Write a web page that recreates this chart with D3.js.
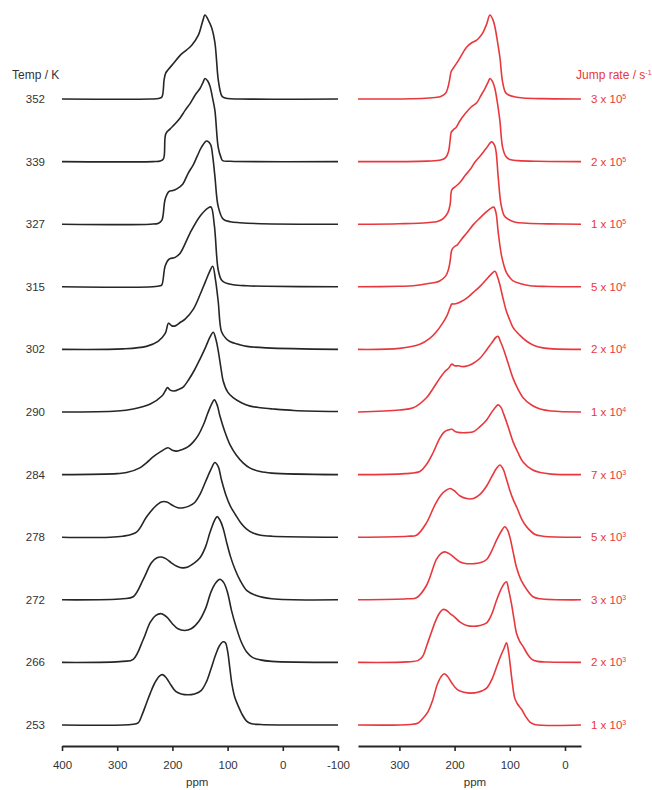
<!DOCTYPE html>
<html>
<head>
<meta charset="utf-8">
<script src="https://cdn.jsdelivr.net/npm/d3@7"></script>
<style>
  html, body { margin: 0; padding: 0; background: #fff; }
  svg { display: block; font-family: "Liberation Sans", Arial, sans-serif; }
</style>
</head>
<body>
<div id="chart"></div>
<script>
// temperatures (K) and fitted jump rates, top to bottom
const temps = [352, 339, 327, 315, 302, 290, 284, 278, 272, 266, 253];
const rateMant = [3, 2, 1, 5, 2, 1, 7, 5, 3, 2, 1];
const rateExp = [5, 5, 5, 4, 4, 4, 3, 3, 3, 3, 3];
const leftTicks = [400, 300, 200, 100, 0, -100];
const rightTicks = [300, 200, 100, 0];

// experimental spectra: [ppm, intensity %]
const exp352 = [[400,0],[240,0],[225,0.6],[219,2.4],[215,23],[212,31],[207.5,35],[196,44],[186,52],[175,58],[165,64],[153,76],[145,93],[141,100],[135,94],[129,85],[123,67],[117,23],[112,6],[109,2.4],[100,0.6],[80,0],[-100,0]];
const exp339 = [[400,0],[235,0],[222,0.6],[216,3.6],[212,33],[204,39],[195,45],[186,52],[177,61],[168,69],[159,79],[150,87],[144,95],[141,99],[136,96],[132,90],[127,75],[123,61],[117,17],[112,5],[109,1.2],[95,0.4],[-100,0]];
const exp327 = [[400,0],[240,0],[225,1.2],[219,4.8],[213,30],[206,39],[199,40],[192,42],[181,48],[172,60],[162,71],[155,81],[147,92],[138,99],[131,95],[127,81],[123,57],[117,21],[108,6],[95,3],[78,1.8],[40,0.6],[-100,0]];
const exp315 = [[400,0],[235,0],[222,1.2],[219,2.4],[213,25],[206,33],[195,35],[186,40],[168,64],[150,84],[135,94],[130,95],[124,73],[117,20],[111,8],[105,5],[90,2.4],[65,1.2],[30,0.6],[-100,0]];
const exp302 = [[400,0],[290,0.6],[247,3.6],[226,9.5],[213,19],[207,31],[201,28],[195,28],[186,32],[177,36],[162,48],[150,65],[140,81],[133,92],[127,99],[122,83],[117,57],[111,21],[103,13],[96,9.5],[80,6],[65,3.6],[29,1.8],[-100,0]];
const exp290 = [[400,0],[300,1.2],[271,3.6],[240,9.5],[219,19],[213,25],[209,29],[204,26],[197,25],[188,27],[180,30],[170,39],[160,50],[150,63],[140,77],[132,89],[126,95],[121,86],[117,73],[112,52],[108,37],[100,24],[90,17],[75,11],[59,7],[40,5],[18,3.6],[-20,1.8],[-100,0.6]];
const exp284 = [[400,0],[300,1.2],[283,2.4],[259,8],[247,14],[235,21],[222,27],[208,32],[200,29],[192,28],[182,30],[172,33],[162,39],[153,47],[144,59],[136,73],[129,84],[124,89],[119,83],[114,70],[105,51],[96,36],[84,23],[72,14],[60,8],[41,3.6],[20,1.8],[-100,0]];
const exp278 = [[400,0],[290,1.2],[265,6],[247,24],[232,36],[220,42],[210,42],[200,38],[190,35],[180,35],[170,37],[160,41],[150,51],[140,66],[130,81],[123,89],[117,84],[111,68],[103,50],[95,37],[86,27],[76,17],[66,10],[54,5],[40,2.4],[20,1.2],[-100,0]];
const exp272 = [[400,0],[290,1.2],[271,3.6],[253,24],[238,44],[228,50],[220,51],[212,49],[202,44],[192,40],[182,38],[172,39],[162,43],[150,50],[140,63],[132,80],[124,94],[119,99],[114,95],[108,85],[102,69],[95,52],[87,37],[78,24],[65,11],[48,5],[20,1.2],[-100,0]];
const exp266 = [[400,0],[290,1.2],[271,3.6],[253,27],[240,48],[230,56],[220,58],[210,54],[200,46],[190,40],[178,38],[166,40],[152,49],[140,64],[130,84],[121,95],[114,99],[107,95],[100,83],[93,62],[84,41],[75,24],[65,12],[55,6],[41,3],[20,1.2],[-100,0]];
const exp253 = [[400,0],[275,0.6],[262,2.4],[255,12],[247,26],[240,38],[232,50],[224,58],[218,60],[211,56],[203,48],[194,40],[184,37],[172,36],[160,37],[148,41],[138,52],[130,67],[122,83],[115,94],[108,99],[104,98],[100,88],[96,68],[92,48],[87,33],[81,23],[74,13],[66,5],[58,1.8],[40,0.6],[-100,0]];

// simulated spectra: [ppm, intensity %]
const sim3e5 = [[375,0],[260,0.6],[235,1.8],[225,3],[216,7],[212,14],[209,23],[206,33],[200,39],[193,46],[185,55],[178,62],[169,67],[160,70],[154,74],[148,80],[142,89],[136,100],[131,95],[127,86],[122,67],[118,50],[113,20],[108,8],[103,5],[90,2.4],[76,1.2],[40,0.4],[-29,0]];
const sim2e5 = [[375,0],[250,0.6],[225,1.8],[216,5],[211,12],[208,26],[206,35],[202,38],[197,41],[190,49],[181,57],[170,65],[160,70],[152,79],[145,87],[139,95],[136,99],[131,95],[127,87],[122,68],[118,49],[113,17],[107,6],[100,2.4],[85,1.2],[50,0.4],[-29,0]];
const sim1e5 = [[375,0],[300,0.6],[250,1.8],[230,3.6],[220,7],[212,14],[208,24],[205,41],[198,45],[190,50],[181,58],[172,65],[163,74],[154,81],[143,90],[133,98],[127,93],[121,56],[116,24],[110,10],[103,6],[90,2.4],[69,1.2],[30,0.4],[-29,0]];
const sim5e4 = [[375,0],[300,0.6],[275,1.2],[250,3.6],[227,7],[216,13],[211,21],[208,31],[205,44],[200,48],[195,50],[187,57],[178,64],[166,74],[154,82],[143,89],[133,94],[129,95],[125,88],[121,65],[115,37],[110,24],[106,17],[100,11],[94,7],[80,3.6],[63,1.2],[30,0.4],[-29,0]];
const sim2e4 = [[375,0],[300,1.2],[263,6],[245,13],[233,21],[222,31],[214,40],[208,50],[205,54],[201,54],[195,55],[188,57],[178,61],[166,68],[154,75],[143,83],[133,90],[127,93],[122,86],[118,77],[112,60],[106,45],[100,35],[94,26],[82,17],[70,10],[57,5],[40,1.8],[22,0.6],[-29,0]];
const sim1e4 = [[375,0],[300,2.4],[275,5],[251,17],[239,28],[227,40],[218,48],[211,52],[205,57],[200,55],[193,55],[185,54],[176,55],[166,58],[154,64],[143,73],[133,82],[125,89],[121,90],[117,84],[112,76],[103,58],[94,40],[85,27],[76,17],[60,8],[45,3.6],[25,1.2],[-29,0]];
const sim7e3 = [[375,0],[290,1.2],[263,3.6],[251,12],[239,26],[228,42],[220,50],[212,53],[205,54],[198,51],[190,50],[178,50],[166,51],[154,57],[142,65],[132,75],[125,81],[121,83],[116,80],[111,72],[103,57],[94,39],[85,26],[76,15],[60,6],[45,2.4],[25,0.6],[-29,0]];
const sim5e3 = [[375,0],[285,1.2],[269,2.4],[251,17],[236,38],[225,50],[215,56],[208,58],[200,55],[190,49],[178,46],[166,46],[154,51],[142,61],[132,73],[124,82],[118,86],[112,81],[106,69],[100,56],[94,45],[87,35],[78,21],[69,12],[55,3.6],[40,1.2],[-29,0]];
const sim3e3 = [[375,0],[285,1.2],[269,2.4],[251,17],[233,48],[225,55],[218,57],[210,55],[202,51],[190,45],[178,43],[166,43],[154,44],[142,48],[133,58],[124,71],[116,81],[109,87],[104,83],[100,75],[94,57],[88,39],[80,24],[69,12],[58,3.6],[45,1.2],[-29,0]];
const sim2e3 = [[375,0],[285,0.6],[266,2.4],[258,7],[251,19],[242,36],[234,50],[227,59],[221,63],[215,62],[208,58],[200,54],[190,48],[178,44],[166,43],[154,44],[142,47],[133,57],[124,74],[116,87],[110,94],[106,96],[102,86],[97,70],[92,50],[88,35],[82,25],[76,19],[68,10],[60,3.6],[50,1.2],[30,0.4],[-29,0]];
const sim1e3 = [[375,0],[280,0.6],[266,2.4],[256,9],[248,16],[240,29],[232,47],[225,57],[219,61],[213,58],[205,50],[195,42],[183,39],[170,38],[158,39],[142,44],[132,55],[124,69],[116,83],[110,92],[106,98],[102,86],[99,70],[95,48],[91,32],[86,25],[79,19],[71,10],[63,3],[55,0.6],[-29,0]];

const expSpectra = [exp352, exp339, exp327, exp315, exp302, exp290, exp284, exp278, exp272, exp266, exp253];
const simSpectra = [sim3e5, sim2e5, sim1e5, sim5e4, sim2e4, sim1e4, sim7e3, sim5e3, sim3e3, sim2e3, sim1e3];

const width = 652;
const height = 790;
const black = '#262626';
const red = '#e8383d';
const textGrey = '#333';
const axisY = 746;

const svg = d3.select('#chart')
  .append('svg')
  .attr('width', width)
  .attr('height', height);

const xLeft = d3.scaleLinear().domain([400, -100]).range([62, 338]);
const xRight = d3.scaleLinear().domain([375, -29]).range([358, 581]);
const base = d3.scalePoint().domain(temps).range([99, 725]);
const amp = d3.scaleLinear().domain([0, 100]).range([0, 84]);

const drawStack = (spectra, x, color) => {
  const g = svg.append('g');
  spectra.forEach((s, i) => {
    const y0 = base(temps[i]);
    const line = d3.line()
      .x((d) => x(d[0]))
      .y((d) => y0 - amp(d[1]))
      .curve(d3.curveCatmullRom.alpha(0.5));
    g.append('path')
      .datum(s)
      .attr('fill', 'none')
      .attr('stroke', color)
      .attr('stroke-width', 1.6)
      .attr('stroke-linejoin', 'round')
      .attr('d', line);
  });
};

drawStack(expSpectra, xLeft, black);
drawStack(simSpectra, xRight, red);

// axes
const styleAxis = (g) => {
  g.select('.domain').attr('stroke', black).attr('stroke-width', 2);
  g.selectAll('.tick line').attr('stroke', black).attr('stroke-width', 1.6);
  g.selectAll('.tick text')
    .attr('fill', textGrey)
    .attr('font-size', 11.5);
};

svg.append('g')
  .attr('transform', `translate(0,${axisY})`)
  .call(d3.axisBottom(xLeft).tickValues(leftTicks).tickSize(5).tickSizeOuter(0).tickPadding(10).tickFormat((d) => String(d)))
  .call(styleAxis);

svg.append('g')
  .attr('transform', `translate(0,${axisY})`)
  .call(d3.axisBottom(xRight).tickValues(rightTicks).tickSize(5).tickSizeOuter(0).tickPadding(10).tickFormat((d) => String(d)))
  .call(styleAxis);

svg.append('text')
  .attr('x', xLeft(155))
  .attr('y', 786)
  .attr('text-anchor', 'middle')
  .attr('font-size', 11.5)
  .attr('fill', textGrey)
  .text('ppm');

svg.append('text')
  .attr('x', xRight(163))
  .attr('y', 786)
  .attr('text-anchor', 'middle')
  .attr('font-size', 11.5)
  .attr('fill', textGrey)
  .text('ppm');

// left labels
svg.append('text')
  .attr('x', 12)
  .attr('y', 79)
  .attr('font-size', 12)
  .attr('fill', textGrey)
  .text('Temp / K');

svg.append('g')
  .selectAll('text')
  .data(temps)
  .join('text')
  .attr('x', 45)
  .attr('y', (d) => base(d) + 4)
  .attr('text-anchor', 'end')
  .attr('font-size', 11.5)
  .attr('fill', textGrey)
  .text((d) => d);

// right labels
const jr = svg.append('text')
  .attr('x', 576)
  .attr('y', 79)
  .attr('font-size', 12)
  .attr('fill', red)
  .text('Jump rate / s');
jr.append('tspan')
  .attr('dy', -4)
  .attr('font-size', 7)
  .text('-1');

const rl = svg.append('g')
  .selectAll('text')
  .data(temps)
  .join('text')
  .attr('x', 591)
  .attr('y', (d) => base(d) + 4)
  .attr('font-size', 11.5)
  .attr('fill', red)
  .text((d, i) => `${rateMant[i]} x 10`);
rl.append('tspan')
  .attr('dy', -4)
  .attr('font-size', 7)
  .text((d, i) => rateExp[i]);
</script>
</body>
</html>
